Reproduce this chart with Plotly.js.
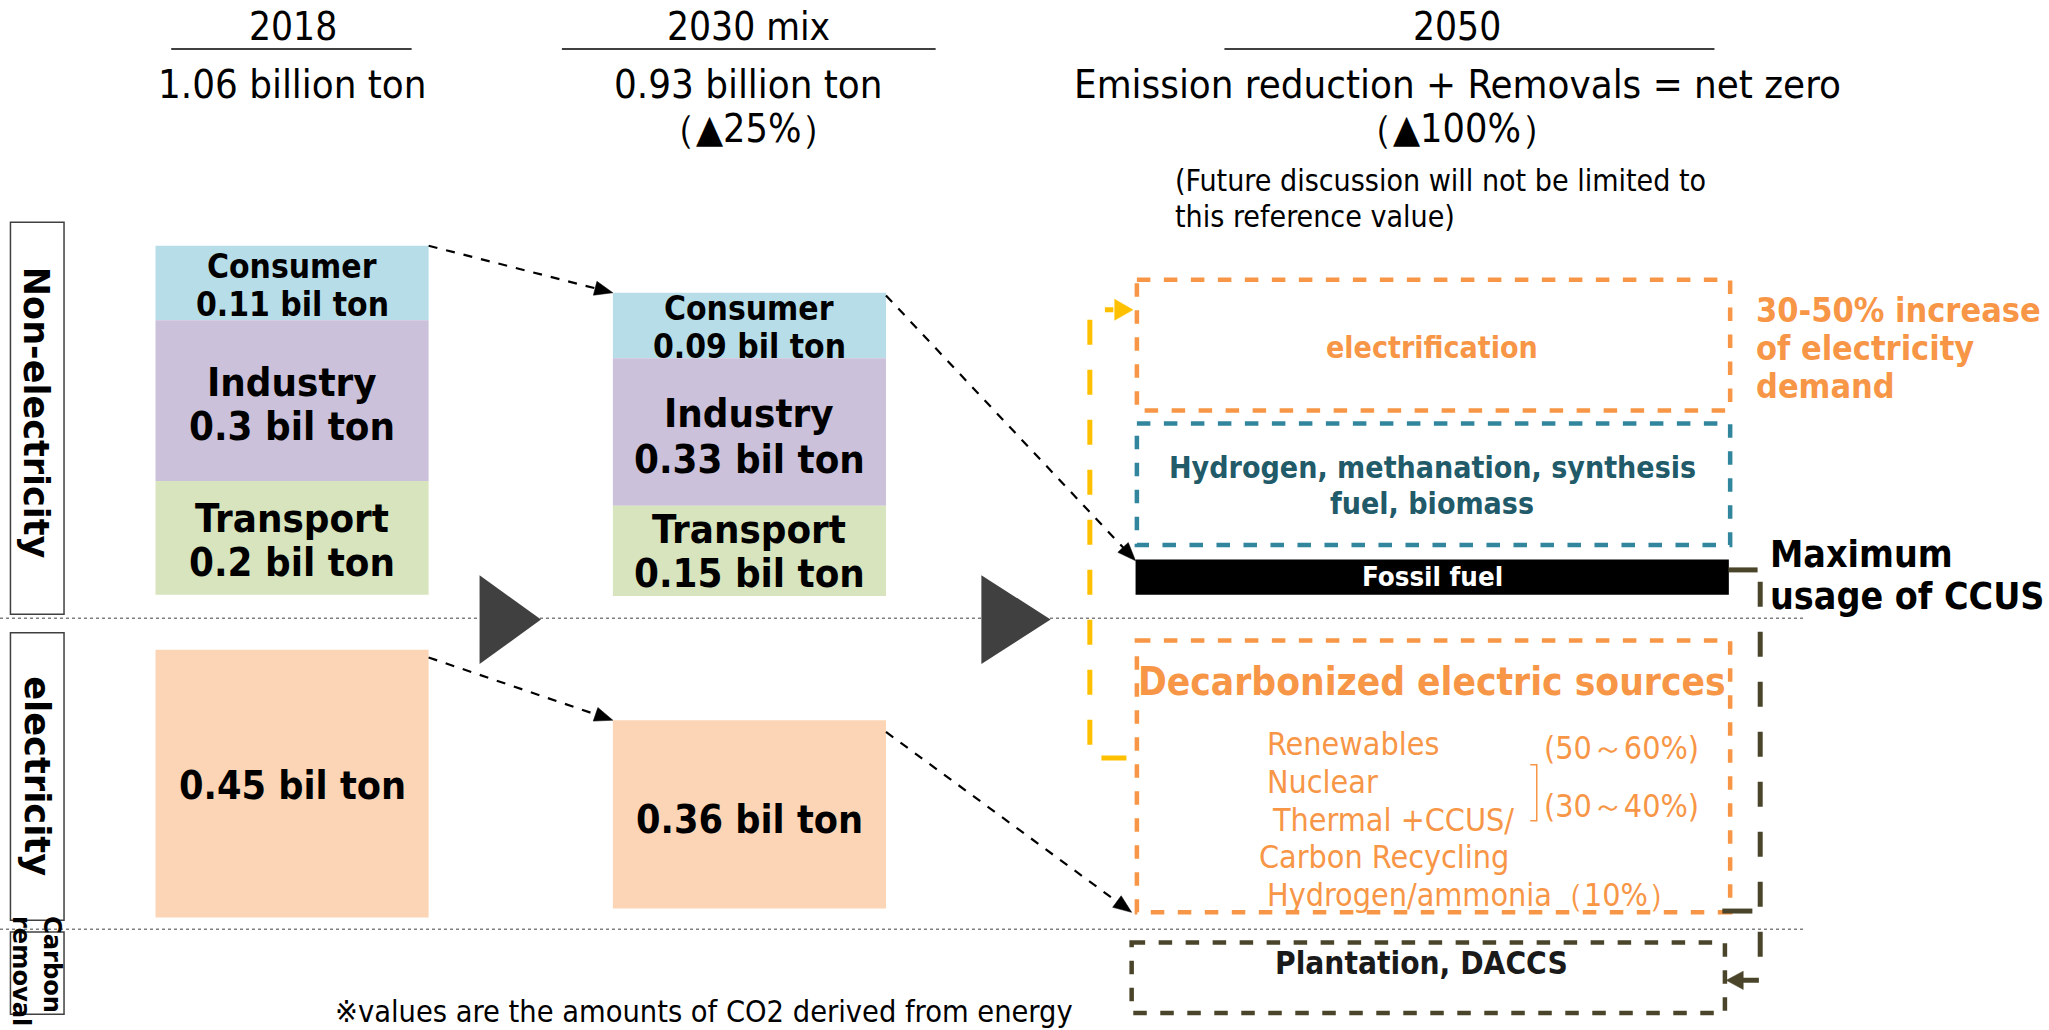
<!DOCTYPE html>
<html><head><meta charset="utf-8">
<script src="https://cdn.plot.ly/plotly-3.0.1.min.js"></script>
<style>html,body{margin:0;padding:0;background:#fff}</style>
</head><body><div id="chart" style="width:2049px;height:1030px"></div>
<script>
// ---------------- data ----------------
const periods = ['2018', '2030 mix', '2050'];
const totals = ['1.06 billion ton', '0.93 billion ton', 'Emission reduction + Removals = net zero'];
const reductions = ['', '（▲25%）', '（▲100%）'];
const note2050 = ['(Future discussion will not be limited to', 'this reference value)'];
const sectors = ['Consumer', 'Industry', 'Transport'];
const nonElec2018 = [0.11, 0.3, 0.2];
const nonElec2030 = [0.09, 0.33, 0.15];
const elecValues = [0.45, 0.36];
const unit = 'bil ton';
const rowLabels = ['Non-electricity', 'electricity', 'Carbon<br>removal'];
const nonElec2050 = ['electrification', 'Hydrogen, methanation, synthesis', 'fuel, biomass', 'Fossil fuel'];
const elecDemand = ['30-50% increase', 'of electricity', 'demand'];
const ccusLabel = ['Maximum', 'usage of CCUS'];
const decarbTitle = 'Decarbonized electric sources';
const mix2050 = ['Renewables', 'Nuclear', 'Thermal +CCUS/', 'Carbon Recycling', 'Hydrogen/ammonia'];
const mixShares = ['(50～60%)', '(30～40%)', '（10%）'];
const removalLabel = 'Plantation, DACCS';
const footnote = '※values are the amounts of CO2 derived from energy';

// ---------------- layout geometry (diagram units) ----------------
const K = 2049 / 1568;            // diagram unit -> screen px
const fs = n => n * K;
const FONT = '"DejaVu Sans Condensed", "DejaVu Sans", sans-serif';
const WIDE = '"DejaVu Sans", Verdana, sans-serif';
const colX = [223.5, 573.5];
const barW = 209;
const segEdges = [[188, 245, 368, 455], [224, 274, 387, 456]];
const elecEdges = [[497, 702], [551, 695]];
const sectorColors = ['#b7dde8', '#ccc1da', '#d7e4bd'];
const elecColor = '#fbd5b5';
const ORANGE = '#f79646', TEAL = '#31859c', TEALTXT = '#215a68', OLIVE = '#4a452a', YELLOW = '#ffc000';

const traces = [];
const nonElec = [nonElec2018, nonElec2030];
sectors.forEach((s, i) => {
  traces.push({
    type: 'bar', name: s, x: colX, width: [barW, barW],
    base: segEdges.map(e => e[i]),
    y: segEdges.map(e => e[i + 1] - e[i]),
    marker: {color: sectorColors[i], line: {width: 0}},
    customdata: nonElec.map(v => v[i]),
    hovertemplate: s + ': %{customdata} ' + unit + '<extra></extra>'
  });
});
traces.push({
  type: 'bar', name: 'Electricity', x: colX, width: [barW, barW],
  base: elecEdges.map(e => e[0]), y: elecEdges.map(e => e[1] - e[0]),
  marker: {color: elecColor, line: {width: 0}},
  customdata: elecValues, hovertemplate: 'Electricity: %{customdata} ' + unit + '<extra></extra>'
});

const ann = [];
const txt = (x, y, text, size, opts = {}) => ann.push(Object.assign({
  x, y, xref: 'x', yref: 'y', text, showarrow: false,
  xanchor: 'center', yanchor: 'middle',
  font: {family: FONT, size: fs(size), color: opts.color || '#000', weight: opts.bold ? 'bold' : 'normal'}
}, opts.extra || {}));
const LEFT = {xanchor: 'left'};

// headers
const headX = [224, 573, 1115];
periods.forEach((p, i) => txt(headX[i], 20, p, 29.5));
totals.forEach((t, i) => txt(headX[i], 64, t, 30.5));
reductions.forEach((r, i) => { if (r) txt(headX[i], 98, r, 30); });
txt(898, 138, note2050[0], 23, {extra: LEFT});
txt(898, 166, note2050[1], 23, {extra: LEFT});

// bar labels
const labY = [[[204, 233], [292, 326], [396, 430]], [[236, 265], [316, 351], [405, 438]]];
[0, 1].forEach(c => {
  sectors.forEach((s, i) => {
    const sz = i === 0 ? 25.5 : 30.5;
    txt(colX[c], labY[c][i][0], s, sz, {bold: true});
    txt(colX[c], labY[c][i][1], nonElec[c][i] + ' ' + unit, sz, {bold: true});
  });
});
txt(colX[0], 601, elecValues[0] + ' ' + unit, 30, {bold: true});
txt(colX[1], 627, elecValues[1] + ' ' + unit, 30, {bold: true});

// row labels (vertical)
const rowBox = [[170, 470], [484, 704], [713, 776]];
const rl = (y, text, size, extra) => ann.push(Object.assign({x: 28.5, y, xref: 'x', yref: 'y', text, showarrow: false,
  textangle: 90, xanchor: 'center', yanchor: 'middle',
  font: {family: WIDE, size: fs(size), color: '#000', weight: 'bold'}}, extra || {}));
rl(316, rowLabels[0], 26.8);
rl(594, rowLabels[1], 27);
rl(743, rowLabels[2], 18.5, {align: 'left'});

// 2050 texts
txt(1096, 266, nonElec2050[0], 23, {bold: true, color: ORANGE});
txt(1096, 358, nonElec2050[1], 23, {bold: true, color: TEALTXT});
txt(1096, 385, nonElec2050[2], 23, {bold: true, color: TEALTXT});
txt(1096, 441, nonElec2050[3], 21, {bold: true, color: '#fff'});
elecDemand.forEach((t, i) => txt(1342, 237 + i * 29, t, 26, {bold: true, color: ORANGE, extra: LEFT}));
ccusLabel.forEach((t, i) => txt(1353, 424 + i * 32, t, 28.5, {bold: true, extra: LEFT}));
txt(1096, 521, decarbTitle, 29.5, {bold: true, color: ORANGE});
const mixX = [968, 968, 972, 962, 968];
const mixY = [569, 598, 627, 656, 685];
mix2050.forEach((m, i) => txt(mixX[i], mixY[i], m + (i === 4 ? mixShares[2] : ''), 24.5, {color: ORANGE, extra: LEFT}));
txt(1180, 572, mixShares[0], 24.5, {color: ORANGE, extra: LEFT});
txt(1180, 617, mixShares[1], 24.5, {color: ORANGE, extra: LEFT});
txt(1088, 737, removalLabel, 24, {bold: true, color: '#1a1a1a'});
txt(255, 774, footnote, 23.3, {extra: LEFT});

// ---------------- shapes ----------------
const shapes = [];
const L = (x0, y0, x1, y1, color, width, dash) => shapes.push({type: 'line', xref: 'x', yref: 'y', x0, y0, x1, y1,
  line: {color, width, dash: dash || 'solid'}, layer: 'above'});
const R = (x0, y0, x1, y1, color, width, dash, fill) => shapes.push({type: 'rect', xref: 'x', yref: 'y', x0, y0, x1, y1,
  line: {color, width, dash: dash || 'solid'}, fillcolor: fill || 'rgba(0,0,0,0)', layer: 'above'});
const P = (path, fill, lineColor, width, dash) => shapes.push({type: 'path', xref: 'x', yref: 'y', path,
  fillcolor: fill || 'rgba(0,0,0,0)', line: {color: lineColor || fill, width: width || 0, dash: dash || 'solid'}, layer: 'above'});
const head = (x1, y1, x2, y2, len, w, color) => {
  const dx = x2 - x1, dy = y2 - y1, d = Math.hypot(dx, dy), ux = dx / d, uy = dy / d;
  const bx = x2 - ux * len, by = y2 - uy * len;
  P(`M ${x2} ${y2} L ${bx - uy * w} ${by + ux * w} L ${bx + uy * w} ${by - ux * w} Z`, color, color, 0.5);
};
const dArrow = (x1, y1, x2, y2) => {
  const dx = x2 - x1, dy = y2 - y1, d = Math.hypot(dx, dy);
  L(x1, y1, x2 - dx / d * 10, y2 - dy / d * 10, '#000', 2.2, 'dash');
  head(x1, y1, x2, y2, 14, 5.5, '#000');
};

// header underlines
[[131, 315], [430, 716], [937, 1312]].forEach(u => L(u[0], 37.5, u[1], 37.5, '#404040', 2.2));
// row boxes
rowBox.forEach(b => R(8, b[0], 49, b[1], '#404040', 1.5));
// separators
L(0, 473, 1380, 473, '#808080', 1.5, 'dot');
L(0, 711, 1380, 711, '#808080', 1.5, 'dot');
// big triangles
P('M 367 440 L 367 508 L 414 474 Z', '#404040');
P('M 751 440 L 751 508 L 804 474 Z', '#404040');
// dashed arrows
dArrow(328, 188, 469, 224);
dArrow(678, 226, 869, 429);
dArrow(328, 503, 469, 551);
dArrow(678, 560, 866, 698);
// 2050 boxes
R(870, 214, 1324, 314, ORANGE, 4.5, 'dash');
R(870, 324, 1324, 417, TEAL, 4.5, 'dash');
R(869, 428, 1323, 455, '#000', 0, 'solid', '#000');
R(870, 490, 1324, 698, ORANGE, 4.5, 'dash');
R(866, 721, 1320, 775, OLIVE, 4.5, 'dash');
// yellow electrification arrow
P('M 862 580 L 834 580 L 834 237 L 852 237', null, YELLOW, 5, 'longdash');
head(840, 237, 867, 237, 14, 8, YELLOW);
// olive CCUS line
L(1323, 436, 1345, 436, OLIVE, 5);
P('M 1347 445 L 1347 750 L 1333 750', null, OLIVE, 5, 'longdash');
head(1345, 750, 1321, 750, 13, 7, OLIVE);
L(1318, 697, 1341, 697, OLIVE, 5);
// bracket
P('M 1171 585 L 1176 585 L 1176 628 L 1171 628', null, ORANGE, 1.5);

const layout = {
  width: 2049, height: 1030, margin: {l: 0, r: 0, t: 0, b: 0},
  paper_bgcolor: '#fff', plot_bgcolor: '#fff', showlegend: false, barmode: 'overlay',
  xaxis: {range: [0, 1568], visible: false, fixedrange: true},
  yaxis: {range: [788, 0], visible: false, fixedrange: true},
  annotations: ann, shapes
};
Plotly.newPlot('chart', traces, layout, {displayModeBar: false, staticPlot: true});
</script></body></html>
